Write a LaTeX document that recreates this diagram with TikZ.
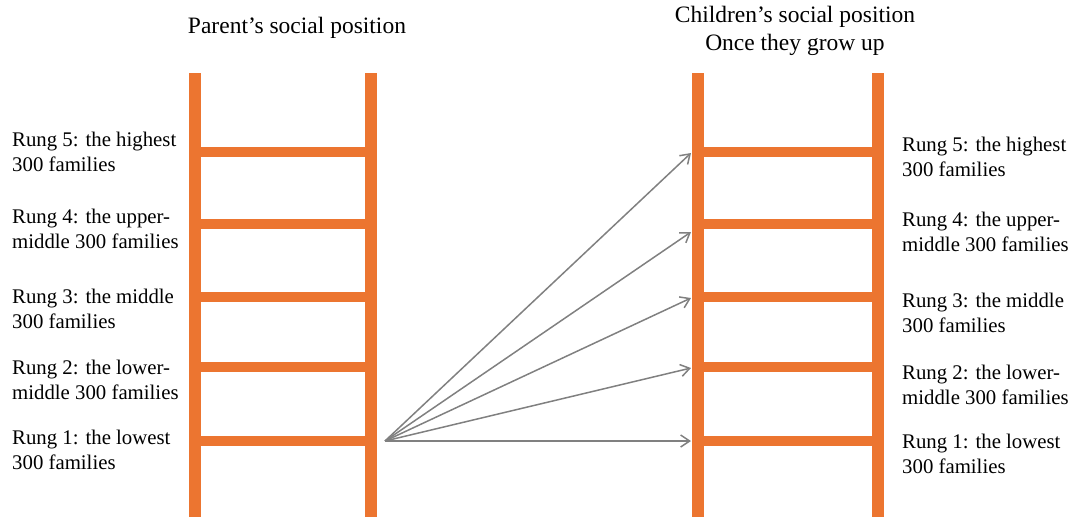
\documentclass[tikz,border=0pt]{standalone}
\usepackage{fontspec}
\setmainfont{Liberation Serif}
\usetikzlibrary{positioning,arrows.meta}
\definecolor{rungorange}{RGB}{236,117,48}
\definecolor{arrowgray}{RGB}{128,128,128}

\begin{document}
\begin{tikzpicture}[x=1pt,y=-1pt,>={Straight Barb[length=9pt,width=12pt]},
  rail/.style={draw=rungorange,line width=12pt},
  rungbar/.style={draw=rungorange,line width=10pt},
  rungtext/.style={font=\fontsize{20.8}{25}\selectfont,align=left,anchor=west,inner sep=0pt},
  titletext/.style={font=\fontsize{23.5}{28}\selectfont,align=center,inner sep=0pt},
  move/.style={->,draw=arrowgray,line width=1.5pt}]
\useasboundingbox (0,0) rectangle (1076,517);
% left ladder
\draw[rail] (195,73) -- (195,517);
\draw[rail] (371,73) -- (371,517);
\foreach \y in {152,224,297,367,441}
  \draw[rungbar] (195,\y) -- (371,\y);
% right ladder
\draw[rail] (698,73) -- (698,517);
\draw[rail] (878,73) -- (878,517);
\foreach \y in {152,224,297,367,441}
  \draw[rungbar] (698,\y) -- (878,\y);
% titles
\node[titletext] (ptitle) at (297,28) {Parent’s social position};
\node[titletext] (ctitle) at (795,31) {Children’s social position\\Once they grow up};
% parent rungs
\node[rungtext] (p5) at (12,152) {Rung 5: the highest\\300 families};
\node[rungtext] (p4) at (12,229) {Rung 4: the upper-\\middle 300 families};
\node[rungtext] (p3) at (12,309) {Rung 3: the middle\\300 families};
\node[rungtext] (p2) at (12,380) {Rung 2: the lower-\\middle 300 families};
\node[rungtext] (p1) at (12,450) {Rung 1: the lowest\\300 families};
% children rungs
\node[rungtext] (c5) at (902,157) {Rung 5: the highest\\300 families};
\node[rungtext] (c4) at (902,232) {Rung 4: the upper-\\middle 300 families};
\node[rungtext] (c3) at (902,313) {Rung 3: the middle\\300 families};
\node[rungtext] (c2) at (902,385) {Rung 2: the lower-\\middle 300 families};
\node[rungtext] (c1) at (902,454) {Rung 1: the lowest\\300 families};
% mobility arrows
\coordinate (src) at (385,441);
\coordinate (t5) at (691,153);
\coordinate (t4) at (691,232);
\coordinate (t3) at (691,298);
\coordinate (t2) at (691,368);
\coordinate (t1) at (691,441);
\foreach \t in {t1,t2,t3,t4,t5}
  \draw[move] (src) -- (\t);
\end{tikzpicture}
\end{document}
